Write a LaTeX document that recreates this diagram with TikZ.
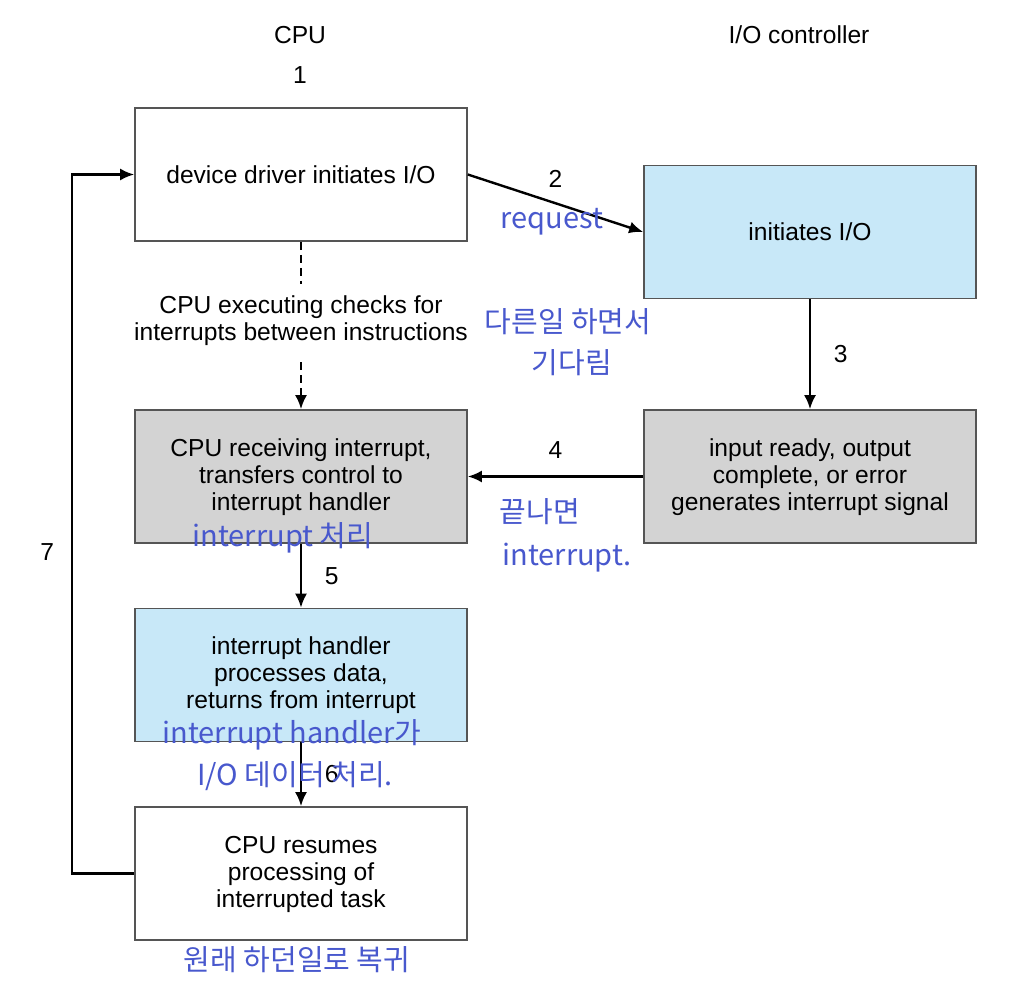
\documentclass[tikz,border=0pt]{standalone}
\usepackage{fontspec}
\setmainfont{Liberation Sans}
\newfontfamily\hangul{Noto Sans CJK KR}
\usetikzlibrary{arrows.meta}
\definecolor{boxblue}{RGB}{200,232,248}
\definecolor{boxgray}{RGB}{211,211,211}
\definecolor{framegray}{RGB}{85,85,85}
\definecolor{ink}{RGB}{72,88,205}
\tikzset{
  stepbox/.style={draw=framegray, line width=0.8pt, minimum width=166pt, minimum height=66.5pt, align=center, inner sep=0pt},
  flow/.style={-{Latex[length=7pt,width=6pt]}, line width=1.2pt},
  note/.style={text=ink, font=\hangul\fontsize{14.5}{16}\selectfont, inner sep=0pt},
  tag/.style={inner sep=0pt}
}
\begin{document}
\begin{tikzpicture}[x=0.5pt,y=-0.5pt,font=\fontsize{12.3}{13.5}\selectfont]
\useasboundingbox (0,0) rectangle (1021,999);
% headings
\node[tag] (cpu) at (300,35) {CPU};
\node[tag] (ioc) at (799,35) {I/O controller};
\node[tag] (one) at (300,75) {1};
% boxes
\node[stepbox, fill=white] (driver) at (301,174.5) {device driver initiates I/O};
\node[stepbox, fill=boxblue] (init) at (810,232) {initiates I/O};
\node[tag, align=center] (check) at (301,321) {CPU executing checks for\\interrupts between instructions};
\node[stepbox, fill=boxgray] (recv) at (301,476.5) {\strut CPU receiving interrupt,\\transfers control to\\interrupt handler};
\node[stepbox, fill=boxgray] (ready) at (810,476.5) {\strut input ready, output\\complete, or error\\generates interrupt signal};
\node[stepbox, fill=boxblue] (handler) at (301,675) {\strut interrupt handler\\processes data,\\returns from interrupt};
\node[stepbox, fill=white] (resume) at (301,873.5) {\strut CPU resumes\\processing of\\interrupted task};
% arrows
\draw[flow] (driver.east) -- node[midway, above=4pt] {2} (init.west);
\draw[line width=1.2pt, dash pattern=on 4pt off 2.5pt] (driver.south) -- ([yshift=6pt]check.north);
\draw[flow, dash pattern=on 4pt off 2.5pt] ([yshift=-8pt]check.south) -- (recv.north);
\draw[flow] (init.south) -- node[midway, right=8pt] {3} (ready.north);
\draw[flow] (ready.west) -- node[midway, above=5pt] {4} (recv.east);
\draw[flow] (recv.south) -- node[midway, right=8pt] {5} (handler.north);
\draw[flow] (handler.south) -- node[midway, right=8pt] {6} (resume.north);
\coordinate (back) at (72,873.5);
\draw[flow] (resume.west) -- (back) |- node[pos=0.23, left=5pt] {7} (driver.west);
% handwritten notes
\node[note] (req) at (552,222) {request};
\node[note] (wait) at (568,322) {다른일 하면서};
\node[note] (waitb) at (572,363) {기다림};
\node[note] (done) at (540,512) {끝나면};
\node[note] (doneb) at (567,558) {interrupt.};
\node[note] (handle) at (283,538) {interrupt 처리};
\node[note] (hdata) at (292,735) {interrupt handler가};
\node[note] (hdatab) at (295,776) {I/O 데이터 처리.};
\node[note] (resumed) at (297,960) {원래 하던일로 복귀};
\end{tikzpicture}
\end{document}
